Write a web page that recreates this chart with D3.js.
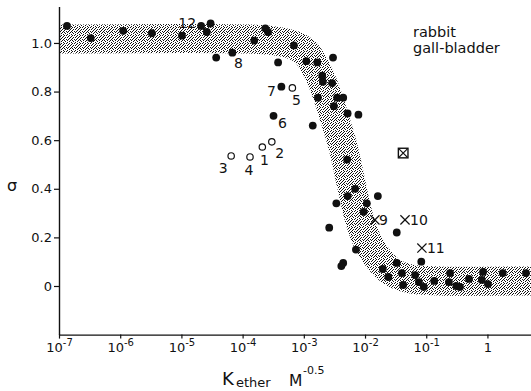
<!DOCTYPE html>
<html>
<head>
<meta charset="utf-8">
<script src="https://cdn.jsdelivr.net/npm/d3@7"></script>
<style>
  body { margin: 0; background: #fff; }
  svg { display: block; }
  text { font-family: "DejaVu Sans", sans-serif; fill: #111; }
</style>
</head>
<body>
<svg id="chart" width="531" height="391"></svg>
<script>
// ---- data ---------------------------------------------------------------
// Plain filled points: K (M^-0.5) and sigma
const dotK = [1.35e-7, 3.3e-7, 1.12e-6, 3.3e-6, 1.02e-5, 2.6e-5, 3.0e-5, 3.7e-5,
  1.55e-4, 2.35e-4, 2.6e-4, 3.8e-4, 6.9e-4, 1.1e-3, 1.66e-3, 3.0e-3,
  2.0e-3, 2.05e-3, 2.9e-3, 1.7e-3, 3.5e-3, 4.4e-3, 3.1e-3, 5.2e-3, 7.8e-3, 1.4e-3,
  5.1e-3, 6.9e-3, 5.2e-3, 1.62e-2, 3.4e-3, 1.07e-2, 9.5e-3, 2.6e-3, 3.3e-2,
  7.1e-3, 4.4e-3, 4.1e-3, 8.3e-2, 3.3e-2, 1.95e-2, 2.4e-2, 4.0e-2, 4.2e-2,
  6.6e-2, 7.6e-2, 9.1e-2, 0.135, 0.245, 0.235, 0.31, 0.355, 0.50, 0.85, 0.81,
  1.02, 1.78, 4.27];
const dotSigma = [1.07, 1.02, 1.05, 1.04, 1.03, 1.045, 1.08, 0.94,
  1.01, 1.06, 1.045, 0.92, 0.99, 0.925, 0.92, 0.94,
  0.865, 0.84, 0.835, 0.775, 0.775, 0.775, 0.74, 0.71, 0.705, 0.66,
  0.52, 0.40, 0.37, 0.37, 0.34, 0.34, 0.305, 0.24, 0.22,
  0.15, 0.095, 0.082, 0.10, 0.095, 0.07, 0.037, 0.053, 0.004,
  0.045, 0.016, -0.004, 0.021, 0.053, 0.016, 0.0, -0.004, 0.029, 0.058, 0.025,
  0.008, 0.053, 0.053];

// Numbered filled points
const numDotNames = ["12", "8", "7", "6"];
const numDotK = [2.1e-5, 6.8e-5, 4.3e-4, 3.2e-4];
const numDotSigma = [1.07, 0.96, 0.82, 0.70];

// Numbered open circles
const circleNames = ["1", "2", "3", "4", "5"];
const circleK = [2.1e-4, 3.0e-4, 6.5e-5, 1.32e-4, 6.5e-4];
const circleSigma = [0.572, 0.593, 0.535, 0.531, 0.815];

// Numbered crosses
const crossNames = ["9", "10", "11"];
const crossK = [1.45e-2, 4.5e-2, 8.5e-2];
const crossSigma = [0.272, 0.272, 0.156];

// Boxed cross
const boxK = [4.2e-2];
const boxSigma = [0.547];

// Centre line of the shaded band
const bandK = [1e-7, 1.32e-4, 3.4e-4, 6.6e-4, 1.05e-3, 1.41e-3, 2.0e-3, 2.57e-3,
  3.24e-3, 4.07e-3, 4.9e-3, 5.9e-3, 7.9e-3, 1.07e-2, 1.62e-2, 2.75e-2, 5.5e-2, 0.17, 5.15];
const bandSigma = [1.016, 1.016, 1.008, 0.992, 0.963, 0.918, 0.840, 0.765,
  0.683, 0.601, 0.519, 0.424, 0.284, 0.189, 0.115, 0.058, 0.029, 0.021, 0.021];

// Axis ticks
const xTicks = [1e-7, 1e-6, 1e-5, 1e-4, 1e-3, 1e-2, 1e-1, 1];
const xTickBase = ["10", "10", "10", "10", "10", "10", "10", "1"];
const xTickExp = ["-7", "-6", "-5", "-4", "-3", "-2", "-1", ""];
const yTicks = [0, 0.2, 0.4, 0.6, 0.8, 1.0];
const yTickLabels = ["0", "0.2", "0.4", "0.6", "0.8", "1.0"];

// ---- drawing ------------------------------------------------------------
const svg = d3.select("#chart");
const x = d3.scaleLog().domain([1e-7, 5.15]).range([59, 531]);
const y = d3.scaleLinear().domain([-0.2, 1.15]).range([334.6, 6.5]);

// stipple texture for the band
const defs = svg.append("defs");
const pat = defs.append("pattern").attr("id", "stipple")
  .attr("patternUnits", "userSpaceOnUse").attr("width", 8).attr("height", 8);
const grain = [[0,0],[3,0],[6,0],[1,1],[5,1],[3,2],[7,2],[0,3],[2,3],[5,3],
  [4,4],[7,4],[1,5],[3,5],[6,5],[0,6],[5,6],[2,7],[4,7],[7,7]];
pat.selectAll("rect").data(grain).join("rect")
  .attr("x", d => d[0]).attr("y", d => d[1])
  .attr("width", 1).attr("height", 1).attr("fill", "#111")
  .attr("shape-rendering", "crispEdges");

defs.append("clipPath").attr("id", "plotclip").append("rect")
  .attr("x", 59).attr("y", 0).attr("width", 472).attr("height", 334);

const bandPts = bandK.map((k, i) => [k, bandSigma[i]]);
svg.append("path")
  .attr("clip-path", "url(#plotclip)")
  .attr("d", d3.line().x(d => x(d[0])).y(d => y(d[1]))
    .curve(d3.curveCatmullRom.alpha(0.5))(bandPts))
  .attr("fill", "none").attr("stroke", "url(#stipple)")
  .attr("stroke-width", 29);

// axes
const yAxis = svg.append("g").attr("transform", "translate(59,0)")
  .call(d3.axisLeft(y).tickValues(yTicks).tickSize(5).tickSizeOuter(0)
    .tickFormat((d, i) => yTickLabels[i]));
yAxis.selectAll("text").attr("font-size", 13).attr("x", -7)
  .style("font-family", "'DejaVu Sans', sans-serif").attr("fill", "#111");

const xAxis = svg.append("g").attr("transform", "translate(0,334.6)")
  .call(d3.axisBottom(x).tickValues(xTicks).tickSize(4).tickSizeOuter(0)
    .tickFormat(""));
xAxis.selectAll(".tick text").remove();
xAxis.selectAll(".tick").each(function (d, i) {
  const t = d3.select(this).append("text")
    .attr("y", 17.5).attr("text-anchor", "middle").attr("fill", "#111")
    .style("font-family", "'DejaVu Sans', sans-serif");
  t.append("tspan").attr("font-size", 13).text(xTickBase[i]);
  if (xTickExp[i]) {
    t.append("tspan").attr("font-size", 10).attr("dy", -6).text(xTickExp[i]);
  }
});
svg.selectAll(".domain").attr("stroke", "#111").attr("stroke-width", 1.4);
svg.selectAll(".tick line").attr("stroke", "#111").attr("stroke-width", 1.2);

// points
svg.append("g").selectAll("circle").data(dotK).join("circle")
  .attr("cx", d => x(d)).attr("cy", (d, i) => y(dotSigma[i]))
  .attr("r", 3.9).attr("fill", "#111");

svg.append("g").selectAll("circle").data(numDotK).join("circle")
  .attr("cx", d => x(d)).attr("cy", (d, i) => y(numDotSigma[i]))
  .attr("r", 3.9).attr("fill", "#111");

svg.append("g").selectAll("circle").data(circleK).join("circle")
  .attr("cx", d => x(d)).attr("cy", (d, i) => y(circleSigma[i]))
  .attr("r", 3.2).attr("fill", "#fff").attr("stroke", "#111").attr("stroke-width", 1.2);

const crossPath = s => `M${-s},${-s}L${s},${s}M${-s},${s}L${s},${-s}`;
svg.append("g").selectAll("path").data(crossK).join("path")
  .attr("transform", (d, i) => `translate(${x(d)},${y(crossSigma[i])})`)
  .attr("d", crossPath(4.6)).attr("fill", "none")
  .attr("stroke", "#111").attr("stroke-width", 1.2);

const boxG = svg.append("g").selectAll("g").data(boxK).join("g")
  .attr("transform", (d, i) => `translate(${x(d)},${y(boxSigma[i])})`);
boxG.append("rect").attr("x", -4.8).attr("y", -4.8).attr("width", 9.6).attr("height", 9.6)
  .attr("fill", "#fff").attr("stroke", "#111").attr("stroke-width", 1.4);
boxG.append("path").attr("d", crossPath(4.2)).attr("stroke", "#111").attr("stroke-width", 1.1);

// point numbers: [dx, dy, anchor] relative to the marker
const tagPlace = {
  "12": [-5, 2, "end"], "8": [6, 15, "middle"], "7": [-10, 9, "middle"],
  "6": [9, 12, "middle"], "5": [4, 17, "middle"], "2": [8, 16, "middle"],
  "1": [2, 18, "middle"], "3": [-8, 17, "middle"], "4": [-1, 18, "middle"],
  "9": [4, 5, "start"], "10": [5, 5, "start"], "11": [5, 5, "start"]
};
const tags = [];
numDotNames.forEach((n, i) => tags.push([n, numDotK[i], numDotSigma[i]]));
circleNames.forEach((n, i) => tags.push([n, circleK[i], circleSigma[i]]));
crossNames.forEach((n, i) => tags.push([n, crossK[i], crossSigma[i]]));
svg.append("g").selectAll("text").data(tags).join("text")
  .attr("x", d => x(d[1]) + tagPlace[d[0]][0])
  .attr("y", d => y(d[2]) + tagPlace[d[0]][1])
  .attr("text-anchor", d => tagPlace[d[0]][2])
  .attr("font-size", 14).text(d => d[0]);

// annotation
svg.append("text").attr("x", 413).attr("y", 37).attr("font-size", 14.5).text("rabbit");
svg.append("text").attr("x", 413).attr("y", 53).attr("font-size", 14.5).text("gall-bladder");

// axis titles
svg.append("text").attr("x", 12).attr("y", 191).attr("text-anchor", "middle")
  .attr("font-size", 16).text("σ");
svg.append("text").attr("x", 222).attr("y", 385).attr("font-size", 18).text("K");
svg.append("text").attr("x", 236).attr("y", 387).attr("font-size", 13).text("ether");
svg.append("text").attr("x", 289).attr("y", 386).attr("font-size", 15.5).text("M");
svg.append("text").attr("x", 303).attr("y", 374).attr("font-size", 11).text("-0.5");
</script>
</body>
</html>
